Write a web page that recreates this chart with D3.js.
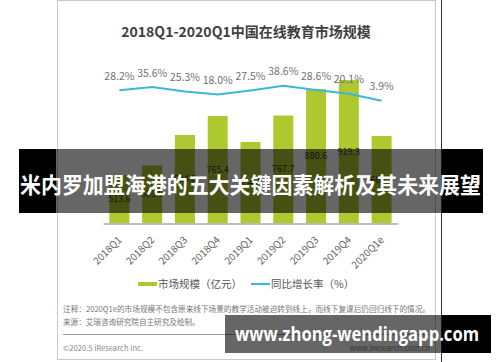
<!DOCTYPE html>
<html>
<head>
<meta charset="utf-8">
<style>
body { margin: 0; background: #fff; }
svg { display: block; font-family: "Noto Sans CJK SC", "Noto Sans", sans-serif; }
</style>
<script src="https://d3js.org/d3.v7.min.js"></script>
</head>
<body>
<div id="my_dataviz"></div>
<script>

// data
var quarters = ["2018Q1", "2018Q2", "2018Q3", "2018Q4", "2019Q1", "2019Q2", "2019Q3", "2019Q4", "2020Q1e"];
var marketSize = [513.6, 553.9, 684.8, 765.4, 654.8, 767.7, 880.6, 919.3, 680.3];
var growthRate = [28.2, 35.6, 25.3, 18.0, 27.5, 38.6, 28.6, 20.1, 3.9];
var legendLabels = ["市场规模（亿元）", "同比增长率（%）"];

var width = 500, height = 362;

var svg = d3.select("#my_dataviz")
  .append("svg")
    .attr("width", width)
    .attr("height", height);

// card
svg.append("rect")
  .attr("x", 57.5).attr("y", 0.5)
  .attr("width", 378).attr("height", 359)
  .attr("fill", "#fff")
  .attr("stroke", "#c9c9c9");

svg.append("line")
  .attr("x1", 441.5).attr("x2", 441.5)
  .attr("y1", 0).attr("y2", height)
  .attr("stroke", "#333");

svg.append("text")
  .attr("x", 246).attr("y", 37)
  .attr("text-anchor", "middle")
  .attr("font-size", "14px")
  .attr("font-weight", "bold")
  .attr("fill", "#404040")
  .text("2018Q1-2020Q1中国在线教育市场规模");

// scales
var x = d3.scaleBand()
  .domain(quarters)
  .range([103, 398])
  .paddingInner(0.39)
  .paddingOuter(0.195);

var y = d3.scaleLinear()
  .domain([307, 920])
  .range([223.3, 79.9]);

var yRate = d3.scaleLinear()
  .domain([0, 40])
  .range([102.4, 85.1]);

// bars
svg.selectAll("myRect")
  .data(quarters)
  .enter()
  .append("rect")
    .attr("x", function(d) { return x(d); })
    .attr("y", function(d, i) { return y(marketSize[i]); })
    .attr("width", x.bandwidth())
    .attr("height", function(d, i) { return y(307) - y(marketSize[i]); })
    .attr("fill", "#adc92f");

// values in the middle of the bars
svg.selectAll("valLabel")
  .data(quarters)
  .enter()
  .append("text")
    .attr("x", function(d) { return x(d) + x.bandwidth() / 2; })
    .attr("y", function(d, i) { return (y(marketSize[i]) + y(307)) / 2 + 3; })
    .attr("text-anchor", "middle")
    .attr("font-size", "9px")
    .attr("fill", "#333")
    .text(function(d, i) { return marketSize[i].toFixed(1); });

// x axis
var xAxis = svg.append("g")
  .attr("transform", "translate(0,223.5)")
  .call(d3.axisBottom(x).tickSize(0).tickPadding(0));
xAxis.select(".domain").attr("stroke", "#aaa").attr("stroke-width", 1.6);
xAxis.selectAll("text")
  .attr("font-size", "10px")
  .attr("fill", "#666")
  .attr("font-family", "'Noto Sans CJK SC', sans-serif")
  .attr("dy", null)
  .attr("y", 0)
  .style("text-anchor", "end")
  .attr("transform", "translate(3,17)rotate(-45)");

// growth line
var line = d3.line()
  .x(function(d, i) { return x(quarters[i]) + x.bandwidth() / 2; })
  .y(function(d) { return yRate(d); });

svg.append("path")
  .datum(growthRate)
  .attr("d", line)
  .attr("fill", "none")
  .attr("stroke", "#3cb7d8")
  .attr("stroke-width", 2);

svg.selectAll("rateLabel")
  .data(growthRate)
  .enter()
  .append("text")
    .attr("x", function(d, i) { return x(quarters[i]) + x.bandwidth() / 2; })
    .attr("y", function(d) { return yRate(d) - 10.5; })
    .attr("text-anchor", "middle")
    .attr("font-size", "10.5px")
    .attr("fill", "#707070")
    .text(function(d) { return d.toFixed(1) + "%"; });

// legend
svg.append("rect")
  .attr("x", 138).attr("y", 282)
  .attr("width", 19).attr("height", 4)
  .attr("fill", "#adc92f");
svg.append("text")
  .attr("x", 158).attr("y", 288)
  .attr("font-size", "10.5px")
  .attr("fill", "#555")
  .text(legendLabels[0]);
svg.append("line")
  .attr("x1", 251).attr("x2", 270)
  .attr("y1", 284).attr("y2", 284)
  .attr("stroke", "#3cb7d8")
  .attr("stroke-width", 2);
svg.append("text")
  .attr("x", 271).attr("y", 288)
  .attr("font-size", "10.5px")
  .attr("fill", "#555")
  .text(legendLabels[1]);

// notes
svg.append("text")
  .attr("x", 63).attr("y", 312)
  .attr("font-size", "7.6px")
  .attr("fill", "#777")
  .attr("textLength", 367)
  .attr("lengthAdjust", "spacingAndGlyphs")
  .text("注释：2020Q1e的市场规模不包含原来线下场景的教学活动被迫转到线上，而线下复课后仍回归线下的情况。");
svg.append("text")
  .attr("x", 63).attr("y", 324.5)
  .attr("font-size", "7.6px")
  .attr("fill", "#777")
  .text("来源：艾瑞咨询研究院自主研究及绘制。");
svg.append("line")
  .attr("x1", 63).attr("x2", 430)
  .attr("y1", 334.5).attr("y2", 334.5)
  .attr("stroke", "#999");
svg.append("text")
  .attr("x", 63).attr("y", 351)
  .attr("font-size", "7.6px")
  .attr("fill", "#888")
  .text("©2020.5 iResearch Inc.");
svg.append("text")
  .attr("x", 430).attr("y", 351)
  .attr("text-anchor", "end")
  .attr("font-size", "7.6px")
  .attr("fill", "#888")
  .text("www.iresearch.com.cn");

// overlay banners
function banner(x0, x1, y0, y1) {
  svg.append("rect")
    .attr("x", x0).attr("y", y0)
    .attr("width", 56 - x0).attr("height", y1 - y0)
    .attr("fill", "#000");
  svg.append("rect")
    .attr("x", Math.max(x0, 56)).attr("y", y0)
    .attr("width", 442 - Math.max(x0, 56)).attr("height", y1 - y0)
    .attr("fill", "#000")
    .attr("opacity", 0.6);
  svg.append("rect")
    .attr("x", 442).attr("y", y0)
    .attr("width", x1 - 442).attr("height", y1 - y0)
    .attr("fill", "#000");
}
banner(19, 483, 149, 213);
svg.append("text")
  .attr("x", 20).attr("y", 193)
  .attr("font-size", "22px")
  .attr("font-weight", "bold")
  .attr("fill", "#fff")
  .attr("textLength", 461)
  .attr("lengthAdjust", "spacingAndGlyphs")
  .text("米内罗加盟海港的五大关键因素解析及其未来展望");

svg.append("rect")
  .attr("x", 225).attr("y", 315)
  .attr("width", 442 - 225).attr("height", 38)
  .attr("fill", "#000")
  .attr("opacity", 0.6);
svg.append("rect")
  .attr("x", 442).attr("y", 315)
  .attr("width", 49).attr("height", 38)
  .attr("fill", "#000");
svg.append("text")
  .attr("x", 235).attr("y", 341)
  .attr("font-size", "19px")
  .attr("font-weight", "bold")
  .attr("font-family", "'Open Sans', sans-serif")
  .attr("fill", "#fff")
  .attr("textLength", 244)
  .attr("lengthAdjust", "spacingAndGlyphs")
  .text("www.zhong-wendingapp.com");

</script>
</body>
</html>
